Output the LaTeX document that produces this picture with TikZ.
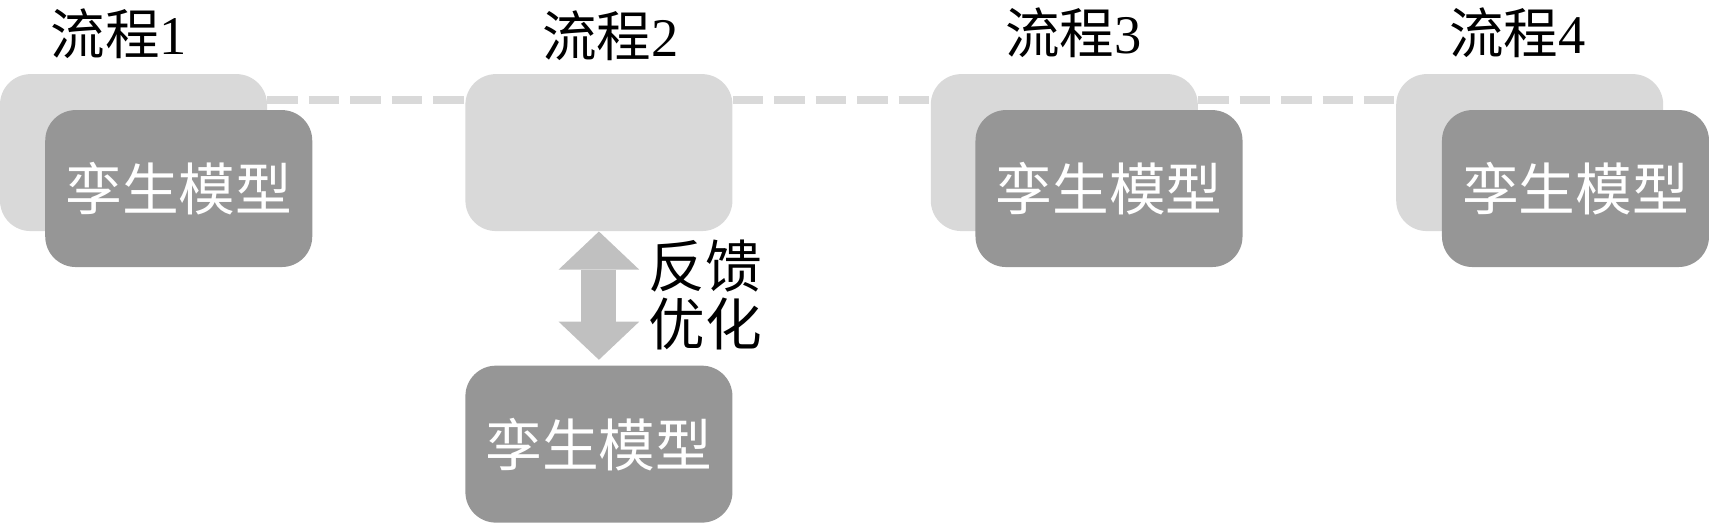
\documentclass[tikz,border=0pt]{standalone}
\usepackage{fontspec}
\setmainfont{Liberation Serif}
\newfontfamily\cjk{Noto Sans CJK SC}
\usetikzlibrary{arrows.meta}
\definecolor{lightbox}{RGB}{217,217,217}
\definecolor{darkbox}{RGB}{150,150,150}
\definecolor{arrowgray}{RGB}{192,192,192}
\tikzset{
  flowbox/.style={rectangle, rounded corners=14pt, fill=lightbox, inner sep=0pt,
    minimum width=122.5pt, minimum height=72pt},
  modelbox/.style={flowbox, fill=darkbox, text=white, font=\cjk\fontsize{26}{30}\selectfont},
  flowtitle/.style={font=\fontsize{25}{28}\selectfont},
  flowline/.style={lightbox, line width=3.4pt, dash pattern=on 14pt off 5pt},
}

\begin{document}
\begin{tikzpicture}[x=0.5pt,y=-0.5pt]
                \useasboundingbox (0,0) rectangle (1568,480.8);
                % light process boxes
                \node[flowbox] (p1) at (122.5,140) {};
                \node[flowbox] (p2) at (549.5,140) {};
                \node[flowbox] (p3) at (976.5,140) {};
                \node[flowbox] (p4) at (1403.5,140) {};
                % titles
                \node[flowtitle] (t1) at (109,31) {{\cjk 流程}1};
                \node[flowtitle] (t2) at (560,33) {{\cjk 流程}2};
                \node[flowtitle] (t3) at (985,30) {{\cjk 流程}3};
                \node[flowtitle] (t4) at (1392,30) {{\cjk 流程}4};
                % dashed links between processes
                \draw[flowline] ([yshift=-12pt]p1.north east) -- ([yshift=-12pt]p2.north west);
                \draw[flowline] ([yshift=-12pt]p2.north east) -- ([yshift=-12pt]p3.north west);
                \draw[flowline] ([yshift=-12pt]p3.north east) -- ([yshift=-12pt]p4.north west);
                % twin models
                \node[modelbox] (m1) at (164,173) {孪生模型};
                \node[modelbox] (m3) at (1017.5,173) {孪生模型};
                \node[modelbox] (m4) at (1445.5,173) {孪生模型};
                \node[modelbox] (m2) at (549.5,407.5) {孪生模型};
                % feedback arrow
                \draw[arrowgray, line width=16pt,
                  {Triangle[width=37pt,length=17.5pt,line width=0pt]}-{Triangle[width=37pt,length=17.5pt,line width=0pt]},
                  shorten >=2.5pt] (p2.south) -- (m2.north);
                \node[anchor=west, align=left, font=\cjk\fontsize{26}{26.5}\selectfont] (fb) at (588,271) {反馈\\优化};
            \end{tikzpicture}
\end{document}
